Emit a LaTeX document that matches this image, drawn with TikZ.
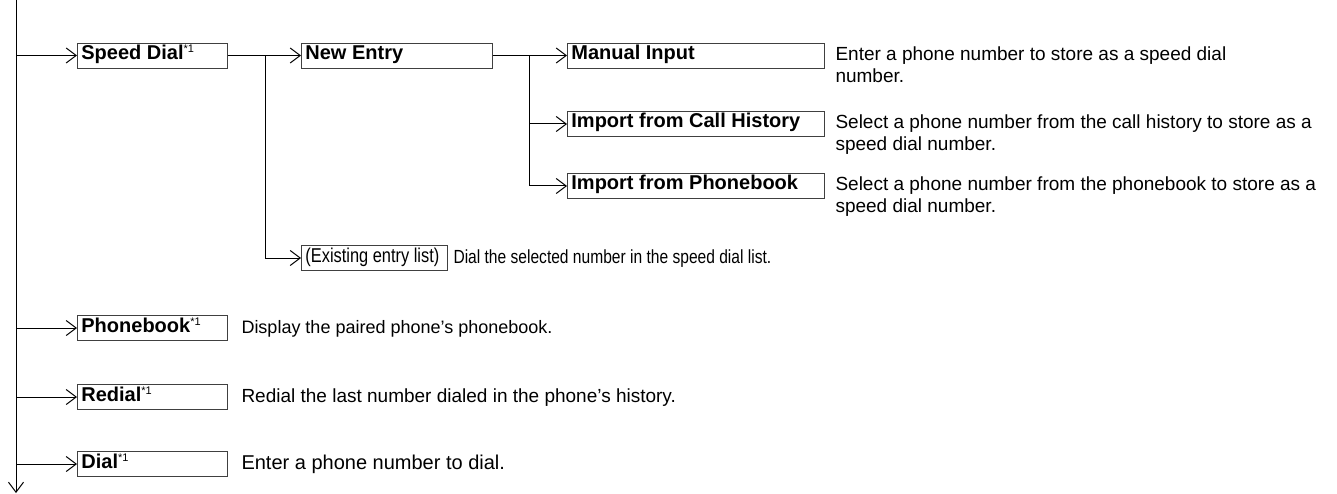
\documentclass[tikz,border=0pt]{standalone}
\usepackage{fontspec}
\setmainfont{Liberation Sans}
\usetikzlibrary{arrows.meta}
\newcommand\noteone{\raisebox{6.5pt}{\fontsize{11}{11}\selectfont\mdseries *1}}
\newcommand\narrowtext[1]{\scalebox{.82}[1]{#1}}
\newcommand\lbl[2]{\makebox[#1][l]{#2}}

\begin{document}
\begin{tikzpicture}[x=1pt,y=-1pt,line width=1pt,
  tip/.style={-{Straight Barb[length=10pt,width=15pt]}},
  item/.style={draw=black!75,line width=.8pt,anchor=west,minimum height=25pt,inner xsep=4pt,inner ysep=0pt,
    text height=13.5pt,text depth=5.5pt,font=\fontsize{20}{24}\selectfont\bfseries},
  desc/.style={anchor=base west,inner sep=0pt,align=left,font=\fontsize{19}{22}\selectfont}]
\useasboundingbox (0,0) rectangle (1337,494);
% menu items
\node[item] (sd) at (77,55.5) {\lbl{142pt}{Speed Dial\noteone}};
\node[item] (ne) at (301,55.5) {\lbl{183pt}{New Entry}};
\node[item] (mi) at (567,55.5) {\lbl{249pt}{Manual Input}};
\node[item] (ich) at (567,124) {\lbl{249pt}{Import from Call History}};
\node[item] (iph) at (567,186) {\lbl{249pt}{Import from Phonebook}};
\node[item,font=\fontsize{20}{24}\selectfont] (ex) at (301,258) {\lbl{138pt}{\narrowtext{(Existing entry list)}}};
\node[item] (pb) at (77,328) {\lbl{142pt}{Phonebook\noteone}};
\node[item] (rd) at (77,397) {\lbl{142pt}{Redial\noteone}};
\node[item] (dl) at (77,464) {\lbl{142pt}{Dial\noteone}};
% descriptions (base = last line)
\node[desc] (mid) at (835,82.5) {Enter a phone number to store as a speed dial\\number.};
\node[desc] (ichd) at (835,151) {Select a phone number from the call history to store as a\\speed dial number.};
\node[desc] (iphd) at (835,213) {Select a phone number from the phonebook to store as a\\speed dial number.};
\node[desc] (exd) at (453,263.5) {\narrowtext{Dial the selected number in the speed dial list.}};
\node[desc,font=\fontsize{18}{22}\selectfont] (pbd) at (241,333.5) {Display the paired phone's phonebook.};
\node[desc] (rdd) at (241,402.5) {Redial the last number dialed in the phone's history.};
\node[desc,font=\fontsize{20}{22}\selectfont] (dld) at (241,469.5) {Enter a phone number to dial.};
% connectors
\coordinate (top) at (16,0);
\coordinate (bot) at (16,493);
\draw[tip] (top) -- (bot);
\foreach \n in {sd,pb,rd,dl} \draw[tip] (top |- \n.west) -- (\n.west);
\draw[tip] (sd.east) -- (ne.west);
\coordinate (j1) at (265,55.5);
\draw[tip] (j1) |- (ex.west);
\draw[tip] (ne.east) -- (mi.west);
\coordinate (j2) at (529,55.5);
\foreach \n in {ich,iph} \draw[tip] (j2) |- (\n.west);
\end{tikzpicture}
\end{document}
